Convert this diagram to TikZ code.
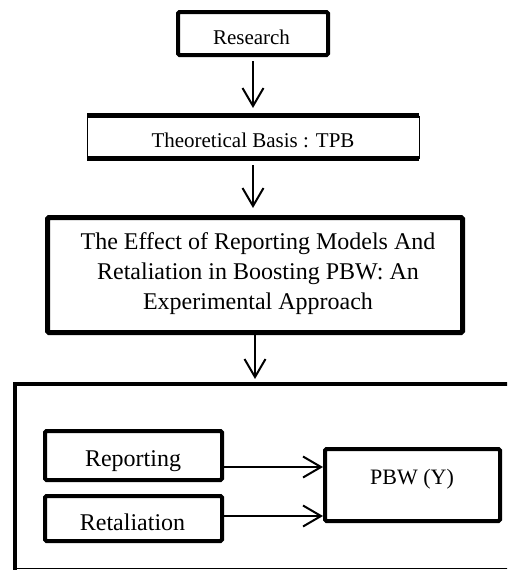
\documentclass[tikz,border=0pt]{standalone}
\usepackage{fontspec}
\setmainfont{Liberation Serif}
\usetikzlibrary{arrows.meta}
\begin{document}
\begin{tikzpicture}[x=1pt,y=-1pt,
  thickbox/.style={draw, line width=4pt, inner sep=0pt, rounded corners=1.5pt},
  arr/.style={line width=2pt, -{Straight Barb[length=18pt,width=21pt,line width=2pt]}},
  f21/.style={font=\fontsize{21}{25}\selectfont},
  f24/.style={font=\fontsize{24}{30}\selectfont},
  txt/.style={inner sep=0pt, anchor=base}]
\useasboundingbox (0,0) rectangle (507,570);
\clip (0,0) rectangle (507,570);

% Research
\node[thickbox, minimum width=150pt, minimum height=43pt] (res) at (253,33.5) {};
\node[txt,f21] (restxt) at (251.5,44) {Research};

% Theoretical basis
\node[draw=none, inner sep=0pt, outer sep=0pt, minimum width=332pt, minimum height=43pt] (th) at (253,137) {};
\draw[line width=5pt] (th.north west) -- (th.north east) (th.south west) -- (th.south east);
\draw[line width=0.6pt] (th.north west) -- (th.south west) (th.north east) -- (th.south east);
\node[txt,f21] (thtxt) at (253,147) {Theoretical Basis : TPB};

% Effect box
\node[thickbox, line width=5pt, minimum width=415pt, minimum height=115pt] (eff) at (255,275) {};
\node[inner sep=0pt, f24, align=center] (efftxt) at (258,274) {The Effect of Reporting Models And\\Retaliation in Boosting PBW: An\\Experimental Approach};

% Big frame
\node[draw=none, inner sep=0pt, outer sep=0pt, minimum width=530pt, minimum height=184pt, anchor=north west] (frame) at (15,384) {};
\draw[line width=4.5pt] ([yshift=-4pt]frame.south west) -- (frame.north west) -- (frame.north east);
\draw[line width=0.6pt] (frame.south west) -- (frame.south east);

% inner boxes
\node[thickbox, minimum width=177pt, minimum height=49pt] (rep) at (133.5,455.5) {};
\node[txt,f24] (reptxt) at (133,466) {Reporting};
\node[thickbox, minimum width=177pt, minimum height=45pt] (ret) at (133.5,518.5) {};
\node[txt,f24] (rettxt) at (132.5,530) {Retaliation};
\node[thickbox, minimum width=175pt, minimum height=72pt] (pbw) at (412.5,485) {};
\node[txt, font=\fontsize{22}{26}\selectfont] (pbwtxt) at (412,484) {PBW (Y)};

% arrows
\draw[arr, shorten <=4pt, shorten >=7.5pt] (res.south) -- (res.south |- th.north);
\draw[arr, shorten <=6.5pt, shorten >=7pt] (th.south) -- (th.south |- eff.north);
\draw[arr, shorten >=5pt] (eff.south) -- (eff.south |- frame.north);
\coordinate (r1) at ([yshift=-11.5pt]rep.east);
\draw[arr] (r1) -- (r1 -| pbw.west);
\coordinate (r2) at ([yshift=2.5pt]ret.east);
\draw[arr] (r2) -- (r2 -| pbw.west);
\end{tikzpicture}
\end{document}
